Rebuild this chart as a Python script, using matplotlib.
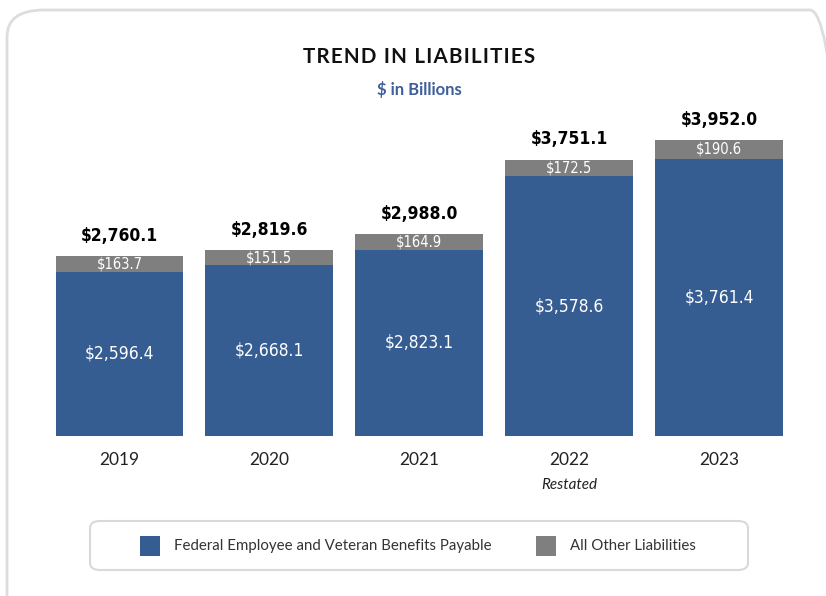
import matplotlib
matplotlib.use("Agg")
import matplotlib.pyplot as plt
from matplotlib import font_manager
from matplotlib.patches import FancyBboxPatch, Rectangle

# ---- data ----
years = ["2019", "2020", "2021", "2022", "2023"]
benefits = [2596.4, 2668.1, 2823.1, 3578.6, 3761.4]
other = [163.7, 151.5, 164.9, 172.5, 190.6]
totals = [2760.1, 2819.6, 2988.0, 3751.1, 3952.0]
year_notes = ["", "", "", "Restated", ""]
series_names = ["Federal Employee and Veteran Benefits Payable", "All Other Liabilities"]
title = "TREND IN LIABILITIES"
subtitle = "$ in Billions"

BLUE = "#365d91"
GRAY = "#7f7f7f"

W, H = 826, 596
fig = plt.figure(figsize=(W / 100, H / 100), dpi=100)

fl = font_manager.fontManager.ttflist
names = {f.name for f in fl}
lato = "Lato" if "Lato" in names else "DejaVu Sans"

# pick a narrow font if one exists
narrow_props = None
for f in fl:
    st = str(f.stretch).lower()
    if ("narrow" in f.name.lower() or "condensed" in f.name.lower()
            or st in ("condensed", "semi-condensed", "extra-condensed", "ultra-condensed")
            or (isinstance(f.stretch, int) and f.stretch < 500)):
        narrow_props = (f.name, f.stretch)
        break
if narrow_props:
    NFAM, NSTRETCH = narrow_props[0], narrow_props[1]
    nscale = 1.0
else:
    NFAM = "Roboto" if "Roboto" in names else "DejaVu Sans"
    NSTRETCH = "normal"
    nscale = 0.85

def fx(px):
    return px / W

def fy(py):
    return 1 - py / H

# outer rounded frame
frame = FancyBboxPatch((fx(7), fy(640)), fx(840), fy(10) - fy(640),
                       boxstyle="round,pad=0,rounding_size=0.045",
                       transform=fig.transFigure, facecolor="none",
                       edgecolor="#dddddd", linewidth=2, zorder=0)
fig.patches.append(frame)

# axes placement
ax = fig.add_axes([fx(44.5), fy(436), fx(749.5), fy(100) - fy(436)])
ax.set_facecolor("none")
ax.set_zorder(2)
x = list(range(len(years)))
ax.bar(x, benefits, width=0.853, color=BLUE, zorder=2)
ax.bar(x, other, bottom=benefits, width=0.853, color=GRAY, zorder=2)
ax.set_xlim(-0.5, len(years) - 0.5)
ax.set_ylim(910, 4363)
ax.axis("off")

nkw = dict(family=NFAM, stretch=NSTRETCH)
for i in x:
    ax.text(i, (benefits[i] + 910) / 2, f"${benefits[i]:,.1f}", ha="center", va="center",
            color="white", fontsize=12.5 * nscale, zorder=3, **nkw)
    ax.text(i, benefits[i] + other[i] / 2, f"${other[i]:,.1f}", ha="center", va="center",
            color="white", fontsize=10.5 * nscale, zorder=3, **nkw)
    ax.annotate(f"${totals[i]:,.1f}", (i, benefits[i] + other[i]), xytext=(0, 8),
                textcoords="offset points", ha="center", va="bottom",
                fontsize=12.5 * nscale, fontweight="bold", color="black", **nkw)
    ax.annotate(years[i], (i, 910), xytext=(0, -17), textcoords="offset points",
                ha="center", va="center", fontsize=12.5, family=lato, color="#222222",
                annotation_clip=False)
    if year_notes[i]:
        ax.annotate(year_notes[i], (i, 910), xytext=(0, -35), textcoords="offset points",
                    ha="center", va="center", fontsize=11, family=lato, style="italic",
                    color="#222222", annotation_clip=False)

# titles (letter-spaced title)
spaced = "\u200a".join(title)
fig.text(fx(419), fy(57), spaced, ha="center", va="center", fontsize=14.8,
         fontweight="bold", family=[lato, "DejaVu Sans"], color="#111111")
fig.text(fx(419), fy(89), subtitle, ha="center", va="center", fontsize=12,
         fontweight="bold", family=lato, color="#3d5f9c")

# legend
lg = FancyBboxPatch((fx(90), fy(570)), fx(658), fy(521) - fy(570),
                    boxstyle="round,pad=0,rounding_size=0.012",
                    transform=fig.transFigure, facecolor="white",
                    edgecolor="#d9d9d9", linewidth=1.5)
fig.patches.append(lg)
for color, name, px in [(BLUE, series_names[0], 140), (GRAY, series_names[1], 536)]:
    fig.patches.append(Rectangle((fx(px), fy(556)), fx(20), fy(536) - fy(556),
                                 transform=fig.transFigure, facecolor=color, edgecolor="none"))
    fig.text(fx(px + 34), fy(546), name, ha="left", va="center", fontsize=10.8,
             family=lato, color="#333333")

fig.savefig("out.png", dpi=100, facecolor="white")
